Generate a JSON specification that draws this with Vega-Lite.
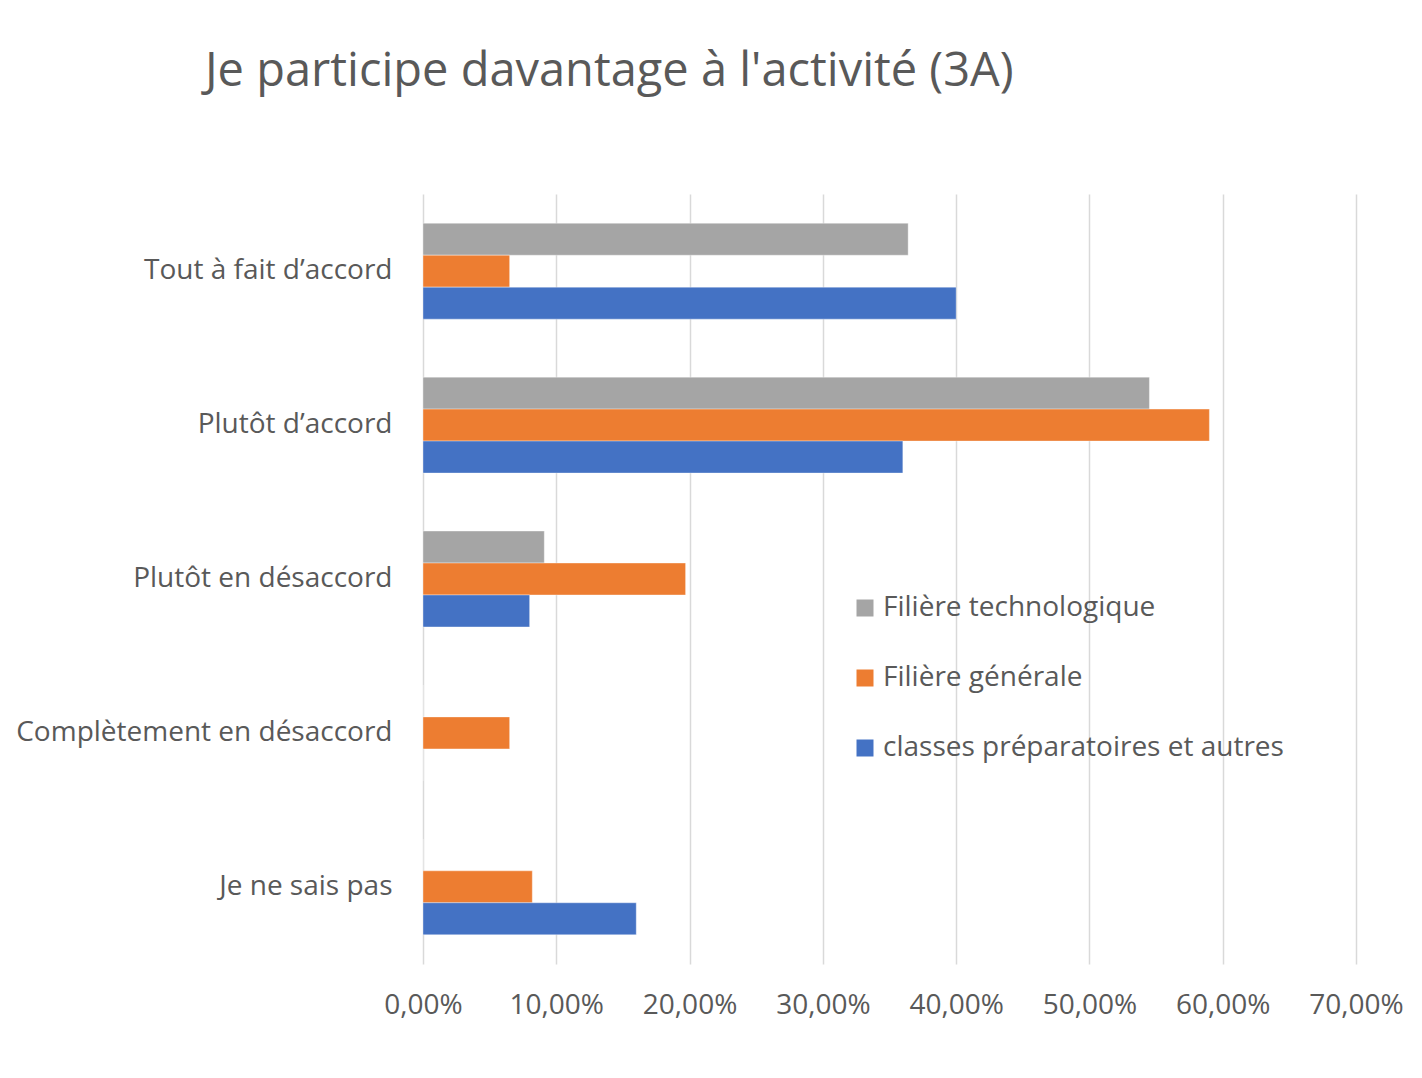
{
  "$schema": "https://vega.github.io/schema/vega-lite/v6.json",
  "width": 933,
  "height": 770,
  "autosize": {"type": "none"},
  "padding": {"left": 423, "top": 194, "right": 66, "bottom": 114},
  "background": "white",
  "title": {
    "text": "Je participe davantage à l'activité (3A)",
    "anchor": "start",
    "frame": "group",
    "dx": -218,
    "offset": 98,
    "fontSize": 47,
    "font": "Open Sans",
    "fontWeight": "normal",
    "color": "#595959"
  },
  "data": {
    "values": [
      {"cat": "Tout à fait d’accord", "serie": "Filière technologique", "val": 0.364},
      {"cat": "Tout à fait d’accord", "serie": "Filière générale", "val": 0.065},
      {"cat": "Tout à fait d’accord", "serie": "classes préparatoires et autres", "val": 0.40},
      {"cat": "Plutôt d’accord", "serie": "Filière technologique", "val": 0.545},
      {"cat": "Plutôt d’accord", "serie": "Filière générale", "val": 0.59},
      {"cat": "Plutôt d’accord", "serie": "classes préparatoires et autres", "val": 0.36},
      {"cat": "Plutôt en désaccord", "serie": "Filière technologique", "val": 0.091},
      {"cat": "Plutôt en désaccord", "serie": "Filière générale", "val": 0.197},
      {"cat": "Plutôt en désaccord", "serie": "classes préparatoires et autres", "val": 0.08},
      {"cat": "Complètement en désaccord", "serie": "Filière technologique", "val": 0},
      {"cat": "Complètement en désaccord", "serie": "Filière générale", "val": 0.065},
      {"cat": "Complètement en désaccord", "serie": "classes préparatoires et autres", "val": 0},
      {"cat": "Je ne sais pas", "serie": "Filière technologique", "val": 0},
      {"cat": "Je ne sais pas", "serie": "Filière générale", "val": 0.082},
      {"cat": "Je ne sais pas", "serie": "classes préparatoires et autres", "val": 0.16}
    ]
  },
  "mark": {"type": "bar", "stroke": "white", "strokeWidth": 0.6, "strokeOpacity": 0.6},
  "encoding": {
    "y": {
      "field": "cat",
      "type": "nominal",
      "sort": ["Tout à fait d’accord", "Plutôt d’accord", "Plutôt en désaccord", "Complètement en désaccord", "Je ne sais pas"],
      "scale": {"paddingInner": 0.377, "paddingOuter": 0.19},
      "axis": {
        "title": null,
        "domain": false,
        "ticks": false,
        "labelPadding": 31,
        "labelFontSize": 28,
        "labelFont": "Open Sans",
        "labelColor": "#595959",
        "labelLimit": 600
      }
    },
    "yOffset": {
      "field": "serie",
      "type": "nominal",
      "sort": ["Filière technologique", "Filière générale", "classes préparatoires et autres"],
      "scale": {"paddingInner": 0, "paddingOuter": 0}
    },
    "x": {
      "field": "val",
      "type": "quantitative",
      "scale": {"domain": [0, 0.7], "nice": false},
      "axis": {
        "title": null,
        "values": [0, 0.1, 0.2, 0.3, 0.4, 0.5, 0.6, 0.7],
        "labelExpr": "replace(format(datum.value, '.2%'), '.', ',')",
        "labelFlush": false,
        "labelOverlap": false,
        "domain": false,
        "ticks": false,
        "grid": true,
        "gridColor": "#d9d9d9",
        "gridWidth": 1.5,
        "labelPadding": 27,
        "labelFontSize": 28,
        "labelFont": "Open Sans",
        "labelColor": "#595959"
      }
    },
    "color": {
      "field": "serie",
      "type": "nominal",
      "sort": ["Filière technologique", "Filière générale", "classes préparatoires et autres"],
      "scale": {
        "domain": ["Filière technologique", "Filière générale", "classes préparatoires et autres"],
        "range": ["#A5A5A5", "#ED7D31", "#4472C4"]
      },
      "legend": {
        "title": null,
        "orient": "none",
        "legendX": 428,
        "legendY": 400,
        "symbolType": "square",
        "symbolSize": 289,
        "symbolStrokeWidth": 0,
        "labelFontSize": 28,
        "labelFont": "Open Sans",
        "labelColor": "#595959",
        "labelOffset": 4,
        "rowPadding": 42,
        "labelLimit": 600
      }
    }
  },
  "config": {"view": {"stroke": null}}
}
